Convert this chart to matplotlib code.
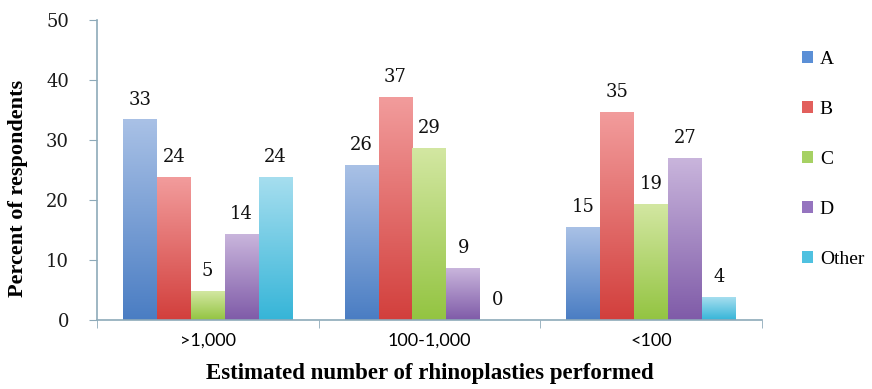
import numpy as np
import matplotlib
matplotlib.use("Agg")
import matplotlib.pyplot as plt
from matplotlib.colors import LinearSegmentedColormap
from matplotlib.patches import Patch

categories = [">1,000", "100-1,000", "<100"]
series = ["A", "B", "C", "D", "Other"]
values_a = [33.3, 25.7, 15.4]
values_b = [23.8, 37.1, 34.6]
values_c = [4.8, 28.6, 19.2]
values_d = [14.3, 8.6, 26.9]
values_other = [23.8, 0.0, 3.8]
labels_a = ["33", "26", "15"]
labels_b = ["24", "37", "35"]
labels_c = ["5", "29", "19"]
labels_d = ["14", "9", "27"]
labels_other = ["24", "0", "4"]

# (top colour, bottom colour) for the Excel-like gradient
grads = [
    ("#a9c1e6", "#4a7dc3"),
    ("#f29c9c", "#d23f3c"),
    ("#d3e7a2", "#93c441"),
    ("#c9b5dc", "#7f5ba8"),
    ("#a6deef", "#36b5d8"),
]
legend_colors = ["#5b8fd6", "#e25f5c", "#a6d163", "#9574bf", "#4fc1e0"]

serif = "Liberation Serif"
numfont = "DejaVu Serif"
axis_col = "#8eaab9"

fig = plt.figure(figsize=(8.72, 3.89), dpi=100)
ax = fig.add_axes([0.111, 0.177, 0.763, 0.772])

all_vals = [values_a, values_b, values_c, values_d, values_other]
all_labels = [labels_a, labels_b, labels_c, labels_d, labels_other]
width = 0.153
x = np.arange(len(categories))
grad = np.linspace(1, 0, 256).reshape(-1, 1)

for i, (vals, labs) in enumerate(zip(all_vals, all_labels)):
    pos = x + (i - 2) * width
    cmap = LinearSegmentedColormap.from_list(f"g{i}", [grads[i][1], grads[i][0]])
    bars = ax.bar(pos, vals, width, color="none", edgecolor="none")
    for b, v, lab in zip(bars, vals, labs):
        if v > 0:
            x0 = b.get_x()
            ax.imshow(grad, cmap=cmap, extent=[x0, x0 + width, 0, v],
                      aspect="auto", zorder=2, vmin=0, vmax=1)
        ax.text(b.get_x() + width / 2, v + 1.9, lab, ha="center", va="bottom",
                fontsize=13, family=numfont, color="#111111")

ax.set_xlim(-0.5, 2.5)
ax.set_ylim(0, 50)
ax.set_yticks(range(0, 51, 10))
ax.set_yticklabels([str(t) for t in range(0, 51, 10)], family=numfont,
                   fontsize=13, color="#1a1a1a")
ax.set_xticks(x)
ax.set_xticklabels(categories, family="Lato", fontsize=13)
ax.set_xticks([-0.5, 0.5, 1.5, 2.5], minor=True)
ax.tick_params(axis="x", which="major", length=0, pad=9)
ax.tick_params(axis="x", which="minor", length=6, color=axis_col, direction="out")
ax.tick_params(axis="y", length=6, color=axis_col, pad=14)

for s in ["top", "right"]:
    ax.spines[s].set_visible(False)
for s in ["left", "bottom"]:
    ax.spines[s].set_color(axis_col)
    ax.spines[s].set_linewidth(1.2)

ax.set_ylabel("Percent of respondents", family=serif, fontweight="bold",
              fontsize=16)
ax.yaxis.set_label_coords(-0.104, 0.44)
ax.set_xlabel("Estimated number of rhinoplasties performed", family=serif,
              fontweight="bold", fontsize=16.5, labelpad=10)

handles = [Patch(facecolor=c, edgecolor="none") for c in legend_colors]
fig.legend(handles, series, loc="upper left", bbox_to_anchor=(0.9, 0.915),
           frameon=False, prop={"family": serif, "size": 14},
           handlelength=0.55, handleheight=0.55, handletextpad=0.35,
           labelspacing=1.7)

fig.savefig("out.png", dpi=100)
